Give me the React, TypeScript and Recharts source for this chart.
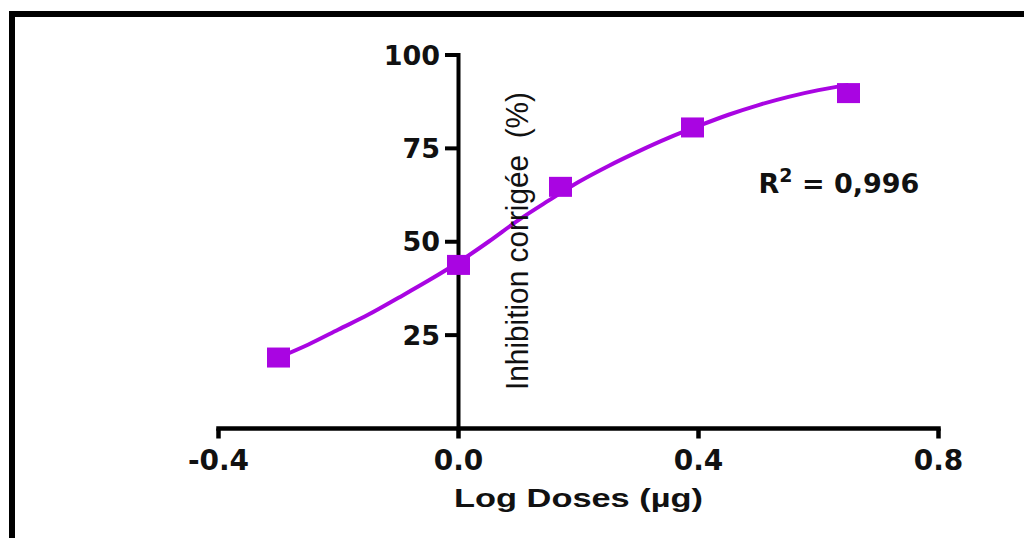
import {
  ComposedChart,
  Line,
  Scatter,
  XAxis,
  YAxis,
  ReferenceLine,
  ReferenceDot,
} from "recharts";

// measured points (log dose, % inhibition)
const logDoses = [-0.3, 0, 0.17, 0.39, 0.65];
const inhibition = [19.0, 43.8, 64.7, 80.6, 89.8];

// fitted curve
const fitLogDoses = [
  -0.3, -0.25, -0.2, -0.15, -0.1, -0.05, 0, 0.05, 0.1, 0.15,
  0.2, 0.25, 0.3, 0.35, 0.4, 0.45, 0.5, 0.55, 0.6, 0.65,
];
const fitInhibition = [
  19.0, 22.5, 26.5, 30.5, 35.0, 39.6, 44.5, 50.0, 55.8, 61.0,
  66.0, 70.3, 74.2, 77.8, 81.0, 84.0, 86.6, 88.8, 90.6, 92.0,
];

const xTicks = [-0.4, 0, 0.4, 0.8];
const yTicks = [25, 50, 75, 100];

const PURPLE = "#A905E2";
const INK = "#111";

const points = logDoses.map((x, i) => ({ x, y: inhibition[i] }));
const fit = fitLogDoses.map((x, i) => ({ x, y: fitInhibition[i] }));

function Square({ cx, cy }: { cx?: number; cy?: number }) {
  if (cx == null || cy == null) return null;
  return <rect x={cx - 11.5} y={cy - 10} width={23} height={20} fill={PURPLE} />;
}

function YTitle(props: any) {
  const { x, y } = props.viewBox;
  return (
    <text
      transform={`translate(${x},${y}) rotate(-90)`}
      textAnchor="middle"
      fontFamily="'Liberation Sans', Arial, sans-serif"
      fontSize={32}
      fill={INK}
      textLength={298}
      lengthAdjust="spacingAndGlyphs"
    >
      Inhibition corrigée{"\u00a0 "}(%)
    </text>
  );
}

function XTitle(props: any) {
  const { x, y, width } = props.viewBox;
  return (
    <text
      x={x + width / 2}
      y={y + 78.5}
      textAnchor="middle"
      fontFamily="'Liberation Sans', Arial, sans-serif"
      fontWeight={700}
      fontSize={26.5}
      fill={INK}
      textLength={249}
      lengthAdjust="spacingAndGlyphs"
    >
      Log Doses (µg)
    </text>
  );
}

function RSquared(props: any) {
  const { x, y } = props.viewBox;
  return (
    <text x={x} y={y} fontFamily="'DejaVu Sans', sans-serif" fontWeight={700} fontSize={27} fill={INK}>
      R
      <tspan fontSize={19} dy={-11}>2</tspan>
      <tspan dy={11}> = 0,996</tspan>
    </text>
  );
}

const tickFont = { fontFamily: "'DejaVu Sans', sans-serif", fontWeight: 700 };

export default function App() {
  return (
    <div style={{ position: "relative", width: 1024, height: 538, overflow: "hidden", background: "#fff" }}>
      <style>{`body{margin:0}`}</style>
      <div
        style={{
          position: "absolute",
          left: 9,
          top: 11,
          right: 0,
          bottom: 0,
          borderTop: "6px solid #000",
          borderLeft: "6px solid #000",
        }}
      />
      <ComposedChart
        width={1024}
        height={538}
        margin={{ top: 55, right: 85.5, bottom: 49.5, left: 218.5 }}
        style={{ position: "absolute", left: 0, top: 0 }}
      >
        <XAxis
          type="number"
          dataKey="x"
          domain={[-0.4, 0.8]}
          ticks={xTicks}
          tickFormatter={(v: number) => v.toFixed(1)}
          height={60}
          tickSize={10}
          tickMargin={12}
          axisLine={{ stroke: "#000", strokeWidth: 4.5, strokeLinecap: "square" }}
          tickLine={{ stroke: "#000", strokeWidth: 4.5 }}
          tick={{ ...tickFont, fontSize: 28, fill: INK }}
          label={XTitle}
        />
        <YAxis type="number" dataKey="y" domain={[0, 100]} hide />

        {/* y axis drawn through x = 0 */}
        <ReferenceLine
          segment={[{ x: 0, y: 0 }, { x: 0, y: 100 }]}
          stroke="#000"
          strokeWidth={4}
          strokeLinecap="square"
        />
        {yTicks.map((v) => (
          <ReferenceLine
            key={v}
            segment={[{ x: -0.0225, y: v }, { x: 0, y: v }]}
            stroke="#000"
            strokeWidth={4}
            label={{
              value: String(v),
              position: "left",
              offset: 5,
              fill: INK,
              fontSize: 27,
              ...tickFont,
            }}
          />
        ))}

        <Line
          data={fit}
          dataKey="y"
          type="monotone"
          stroke={PURPLE}
          strokeWidth={4}
          dot={false}
          activeDot={false}
          isAnimationActive={false}
        />
        <Scatter data={points} dataKey="y" shape={<Square />} isAnimationActive={false} />

        <ReferenceDot x={0.116} y={50.2} r={0} fill="none" stroke="none" label={YTitle} />
        <ReferenceDot x={0.5} y={63} r={0} fill="none" stroke="none" label={RSquared} />
      </ComposedChart>
    </div>
  );
}
